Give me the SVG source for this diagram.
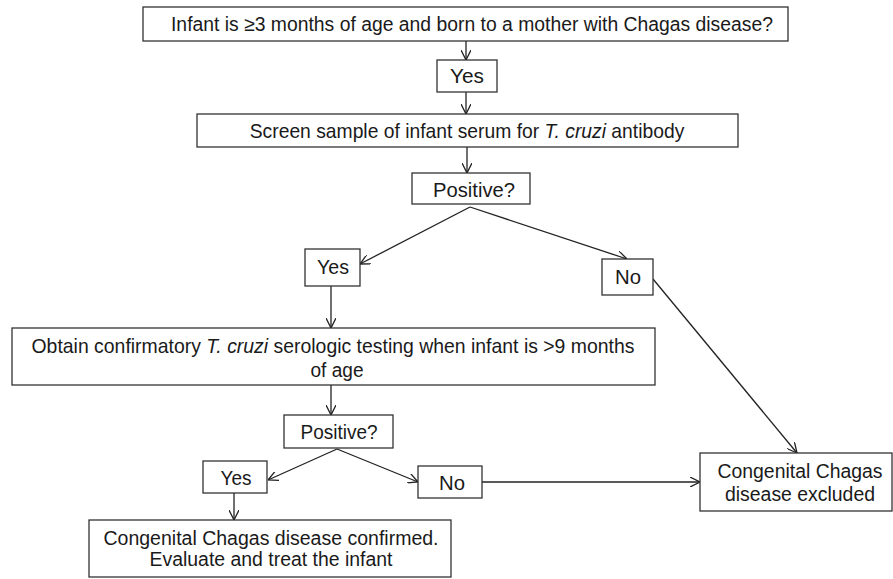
<svg xmlns="http://www.w3.org/2000/svg" width="893" height="579" viewBox="0 0 893 579">
<style>
.box{fill:#fff;stroke:#333;stroke-width:1.3}
.t{font-family:"Liberation Sans",Arial,sans-serif;font-size:20px;fill:#1a1a1a;text-anchor:middle}
.c{fill:none;stroke:#222;stroke-width:1.3}
</style>
<defs>
<marker id="ah" viewBox="0 0 10 10" refX="10" refY="5" markerWidth="10" markerHeight="10" markerUnits="userSpaceOnUse" orient="auto">
<polyline points="0,0 10,5 0,10" fill="none" stroke="#222" stroke-width="1.3"/>
</marker>
</defs>
<rect width="893" height="579" fill="#fff"/>
<g id="connectors">
<line class="c" x1="466" y1="41" x2="466" y2="60" marker-end="url(#ah)"/>
<line class="c" x1="466" y1="92" x2="466" y2="114" marker-end="url(#ah)"/>
<line class="c" x1="467" y1="147" x2="467" y2="173" marker-end="url(#ah)"/>
<line class="c" x1="470" y1="207" x2="360" y2="264" marker-end="url(#ah)"/>
<line class="c" x1="470" y1="207" x2="627" y2="259" marker-end="url(#ah)"/>
<line class="c" x1="331" y1="286" x2="331" y2="328" marker-end="url(#ah)"/>
<line class="c" x1="653" y1="279" x2="797" y2="453" marker-end="url(#ah)"/>
<line class="c" x1="331" y1="385" x2="331" y2="415" marker-end="url(#ah)"/>
<line class="c" x1="337" y1="449" x2="268" y2="480" marker-end="url(#ah)"/>
<line class="c" x1="337" y1="449" x2="418" y2="482" marker-end="url(#ah)"/>
<line class="c" x1="482" y1="482" x2="700" y2="482" marker-end="url(#ah)"/>
<line class="c" x1="234" y1="493" x2="234" y2="520" marker-end="url(#ah)"/>
</g>
<g id="start">
<rect class="box" x="143" y="7" width="645" height="34"/>
<text class="t" x="472" y="31" textLength="602" lengthAdjust="spacingAndGlyphs">Infant is ≥3 months of age and born to a mother with Chagas disease?</text>
</g>
<g id="yes1">
<rect class="box" x="437" y="60" width="60" height="32"/>
<text class="t" x="467" y="83" textLength="34" lengthAdjust="spacingAndGlyphs">Yes</text>
</g>
<g id="screen">
<rect class="box" x="197" y="114" width="541" height="33"/>
<text class="t" transform="translate(467,138) scale(0.965,1)">Screen sample of infant serum for <tspan font-style="italic">T. cruzi</tspan> antibody</text>
</g>
<g id="positive1">
<rect class="box" x="412" y="173" width="118" height="31"/>
<text class="t" x="474" y="197" textLength="82" lengthAdjust="spacingAndGlyphs">Positive?</text>
</g>
<g id="yes2">
<rect class="box" x="305" y="249" width="55" height="37"/>
<text class="t" x="333" y="274" textLength="32" lengthAdjust="spacingAndGlyphs">Yes</text>
</g>
<g id="no2">
<rect class="box" x="602" y="259" width="51" height="36"/>
<text class="t" x="628" y="284" textLength="26" lengthAdjust="spacingAndGlyphs">No</text>
</g>
<g id="confirmatory">
<rect class="box" x="12" y="328" width="643" height="57"/>
<text class="t" transform="translate(333,353) scale(0.971,1)">Obtain confirmatory <tspan font-style="italic">T. cruzi</tspan> serologic testing when infant is &gt;9 months</text>
<text class="t" x="337" y="377" textLength="53" lengthAdjust="spacingAndGlyphs">of age</text>
</g>
<g id="positive2">
<rect class="box" x="284" y="415" width="109" height="33"/>
<text class="t" x="339" y="439" textLength="77" lengthAdjust="spacingAndGlyphs">Positive?</text>
</g>
<g id="yes3">
<rect class="box" x="203" y="461" width="64" height="32"/>
<text class="t" x="236" y="485" textLength="31" lengthAdjust="spacingAndGlyphs">Yes</text>
</g>
<g id="no3">
<rect class="box" x="418" y="466" width="64" height="32"/>
<text class="t" x="452" y="490" textLength="26" lengthAdjust="spacingAndGlyphs">No</text>
</g>
<g id="excluded">
<rect class="box" x="700" y="453" width="192" height="58"/>
<text class="t" x="800" y="478" textLength="165" lengthAdjust="spacingAndGlyphs">Congenital Chagas</text>
<text class="t" x="800" y="501" textLength="150" lengthAdjust="spacingAndGlyphs">disease excluded</text>
</g>
<g id="confirmed">
<rect class="box" x="89" y="520" width="362" height="57"/>
<text class="t" x="271" y="545" textLength="335" lengthAdjust="spacingAndGlyphs">Congenital Chagas disease confirmed.</text>
<text class="t" x="271" y="566" textLength="243" lengthAdjust="spacingAndGlyphs">Evaluate and treat the infant</text>
</g>
</svg>
